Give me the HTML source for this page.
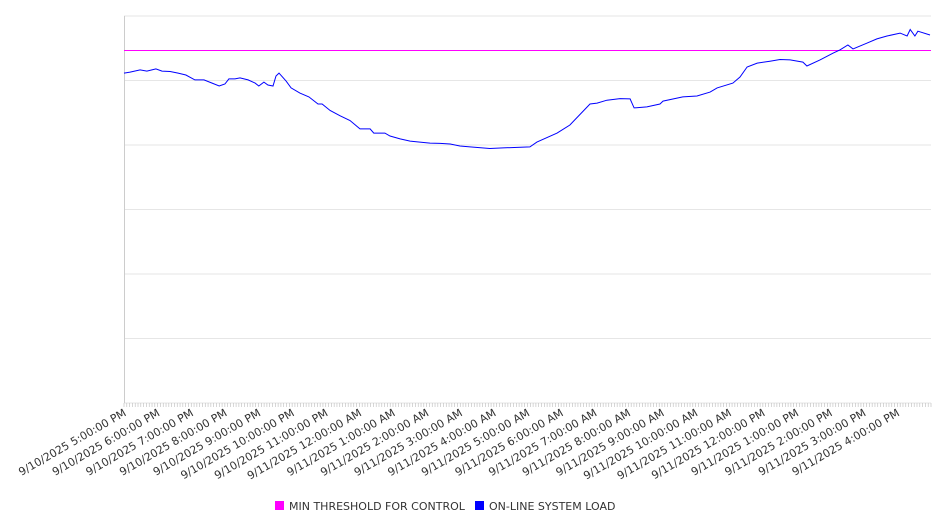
<!DOCTYPE html>
<html><head><meta charset="utf-8"><style>
body{margin:0;background:#fff;font-family:"Liberation Sans","DejaVu Sans",sans-serif;}
svg text{font-family:"DejaVu Sans","Liberation Sans",sans-serif;}
</style></head><body>
<svg id="chart" width="946" height="526" viewBox="0 0 946 526" xmlns="http://www.w3.org/2000/svg">
<g id="grid"></g>
<g id="xaxis"></g>
<g id="series"></g>
<g>
<rect x="275" y="501" width="9" height="9" fill="#ff00ff"/>
<text x="289" y="510" font-size="11" fill="#333">MIN THRESHOLD FOR CONTROL</text>
<rect x="475" y="501" width="9" height="9" fill="#0000ff"/>
<text x="489" y="510" font-size="11" fill="#333">ON-LINE SYSTEM LOAD</text>
</g>
</svg>
<script>
const hourLabels=["9/10/2025 5:00:00 PM","9/10/2025 6:00:00 PM","9/10/2025 7:00:00 PM","9/10/2025 8:00:00 PM","9/10/2025 9:00:00 PM","9/10/2025 10:00:00 PM","9/10/2025 11:00:00 PM","9/11/2025 12:00:00 AM","9/11/2025 1:00:00 AM","9/11/2025 2:00:00 AM","9/11/2025 3:00:00 AM","9/11/2025 4:00:00 AM","9/11/2025 5:00:00 AM","9/11/2025 6:00:00 AM","9/11/2025 7:00:00 AM","9/11/2025 8:00:00 AM","9/11/2025 9:00:00 AM","9/11/2025 10:00:00 AM","9/11/2025 11:00:00 AM","9/11/2025 12:00:00 PM","9/11/2025 1:00:00 PM","9/11/2025 2:00:00 PM","9/11/2025 3:00:00 PM","9/11/2025 4:00:00 PM"];
const yTicks=[0,20,40,60,80,100,120];
const threshold=109.3;
const loadHours=[0,0.18,0.48,0.68,0.83,0.95,1.13,1.37,1.61,1.84,2.11,2.38,2.62,2.83,3.00,3.12,3.30,3.45,3.69,3.90,4.01,4.16,4.28,4.43,4.52,4.61,4.82,4.97,5.23,5.50,5.77,5.89,6.13,6.42,6.72,7.02,7.32,7.43,7.76,7.91,8.21,8.51,8.80,9.10,9.40,9.70,9.99,10.29,10.88,11.27,12.07,12.28,12.88,13.26,13.86,14.07,14.36,14.75,15.05,15.17,15.55,15.94,16.03,16.62,17.04,17.43,17.64,18.11,18.32,18.53,18.83,19.21,19.51,19.81,20.19,20.31,20.70,21.09,21.29,21.53,21.68,22.10,22.39,22.69,23.08,23.29,23.38,23.52,23.61,23.97];
const loadValues=[102.3,102.6,103.3,102.9,103.3,103.6,102.9,102.8,102.3,101.7,100.2,100.2,99.2,98.3,98.9,100.5,100.5,100.8,100.2,99.2,98.3,99.5,98.6,98.3,101.4,102.3,99.8,97.7,96.1,94.9,92.7,92.7,90.7,89.1,87.6,85.0,85.0,83.7,83.7,82.8,81.9,81.2,80.9,80.6,80.5,80.3,79.7,79.4,78.9,79.1,79.4,80.9,83.7,86.2,92.7,93.0,93.9,94.4,94.3,91.5,91.8,92.7,93.6,94.9,95.2,96.4,97.7,99.2,101.1,104.2,105.4,106.0,106.5,106.4,105.7,104.5,106.4,108.5,109.5,111.0,109.8,111.6,112.9,113.8,114.7,113.8,115.8,113.8,115.3,114.1];
const X0=124,X1=931,Y0=403,Y1=16,HSPAN=24;
const sx=h=>X0+(h/HSPAN)*(X1-X0);
const sy=v=>Y0-(v/120)*(Y0-Y1);
const NS="http://www.w3.org/2000/svg";
function mk(t,a,p){const e=document.createElementNS(NS,t);for(const k in a)e.setAttribute(k,a[k]);p.appendChild(e);return e;}
const grid=document.getElementById('grid'),xa=document.getElementById('xaxis'),ser=document.getElementById('series');
yTicks.forEach(v=>{const l=mk('line',{x1:X0,x2:X1,y1:sy(v),y2:sy(v),stroke:'#e6e6e6','stroke-width':1},grid);

});
const ya=mk('line',{x1:X0+0.5,x2:X0+0.5,y1:Y1,y2:Y0,stroke:'#ccc'},grid);


for(let m=0;m<=HSPAN*12;m++){const x=sx(m/12);const t=mk('line',{x1:x,x2:x,y1:Y0,y2:Y0+4,stroke:'#bbb','stroke-width':0.6},xa);

}
hourLabels.forEach((s,i)=>{const x=sx(i)+3;const t=mk('text',{x:x,y:415,'font-size':11,fill:'#333','text-anchor':'end',transform:`rotate(-30 ${x} 415)`},xa);t.textContent=s;

});
const th=mk('line',{x1:X0,x2:X1,y1:sy(threshold),y2:sy(threshold),stroke:'#ff00ff','stroke-width':1},ser);


const pts=loadHours.map((h,i)=>sx(h).toFixed(1)+','+sy(loadValues[i]).toFixed(1)).join(' ');
const pl=mk('polyline',{points:pts,fill:'none',stroke:'#0000ff','stroke-width':1},ser);


</script>
</body></html>
